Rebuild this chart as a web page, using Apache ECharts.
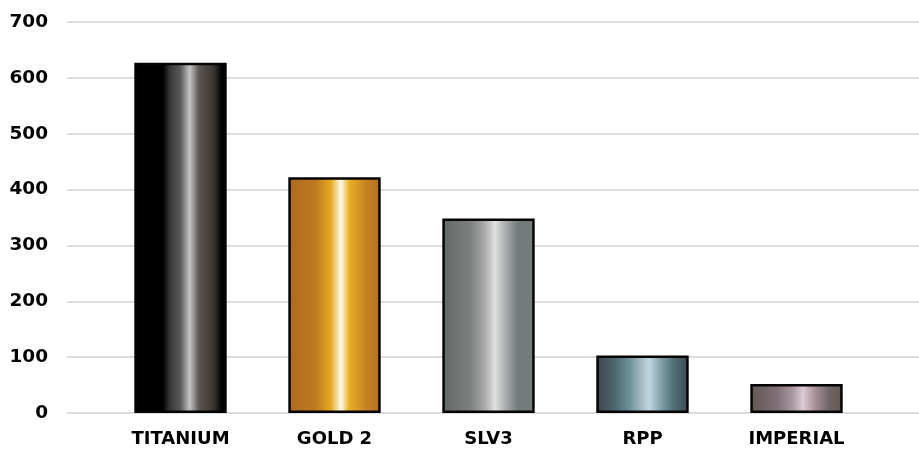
<!DOCTYPE html>
<html>
<head>
<meta charset="utf-8">
<script src="https://cdn.jsdelivr.net/npm/echarts@6/dist/echarts.min.js"></script>
<style>
html,body{margin:0;padding:0;background:#fff;}
#chart{width:919px;height:450px;}
</style>
</head>
<body>
<div id="chart"></div>
<script>
const categories = ['TITANIUM', 'GOLD 2', 'SLV3', 'RPP', 'IMPERIAL'];
const values = [627, 422, 348, 103, 52];
const yTicks = [0, 100, 200, 300, 400, 500, 600, 700];

const gradientStops = [
  [[0, '#000000'], [0.31, '#000000'], [0.38, '#353535'], [0.5, '#5a5a5a'], [0.6, '#c4c4c4'], [0.7, '#5c5752'], [0.86, '#3a3531'], [0.95, '#000000'], [1, '#000000']],
  [[0, '#ac6a22'], [0.3, '#c07a20'], [0.46, '#e3aa22'], [0.57, '#fffaec'], [0.66, '#e8b024'], [0.85, '#c68022'], [1, '#b47020']],
  [[0, '#626867'], [0.3, '#7b7f7f'], [0.46, '#aaaaaa'], [0.57, '#e2e2e2'], [0.7, '#a2a6a6'], [0.82, '#747a7a'], [1, '#777d7d']],
  [[0, '#3d4249'], [0.2, '#4d6770'], [0.36, '#6c9199'], [0.48, '#a2b9c1'], [0.57, '#c2d6e0'], [0.7, '#82a1a9'], [0.83, '#517079'], [1, '#414950']],
  [[0, '#615850'], [0.3, '#817179'], [0.46, '#a999a1'], [0.57, '#ddcbd5'], [0.7, '#a99199'], [0.85, '#716569'], [1, '#615850']]
];

const chart = echarts.init(document.getElementById('chart'), null, {renderer: 'canvas'});
const font = 'DejaVu Sans';

chart.setOption({
  animation: false,
  backgroundColor: '#ffffff',
  grid: [
    {left: 67, right: 0, top: 22, bottom: 37},
    {left: 103.5, width: 770, top: 22, bottom: 37}
  ],
  xAxis: [
    {gridIndex: 0, type: 'category', data: categories, show: false},
    {
      gridIndex: 1, type: 'category', data: categories,
      axisLine: {show: false}, axisTick: {show: false},
      axisLabel: {margin: 17, color: '#000', fontFamily: font, fontWeight: 'bold', fontSize: 18}
    }
  ],
  yAxis: [
    {
      gridIndex: 0, type: 'value', min: yTicks[0], max: yTicks[yTicks.length - 1], interval: 100,
      axisLine: {show: false}, axisTick: {show: false},
      axisLabel: {margin: 19, color: '#000', fontFamily: font, fontWeight: 'bold', fontSize: 18.5},
      splitLine: {lineStyle: {color: '#dcdcdc', width: 2}}
    },
    {
      gridIndex: 1, type: 'value', min: yTicks[0], max: yTicks[yTicks.length - 1], interval: 100,
      show: false, splitLine: {show: false}
    }
  ],
  series: [{
    type: 'bar',
    xAxisIndex: 1, yAxisIndex: 1,
    barWidth: '60%',
    data: values.map((v, i) => ({
      value: v,
      itemStyle: {
        color: {type: 'linear', x: 0, y: 0, x2: 1, y2: 0,
          colorStops: gradientStops[i].map(s => ({offset: s[0], color: s[1]}))},
        borderColor: '#050505', borderWidth: 2.5
      }
    }))
  }]
});
</script>
</body>
</html>
